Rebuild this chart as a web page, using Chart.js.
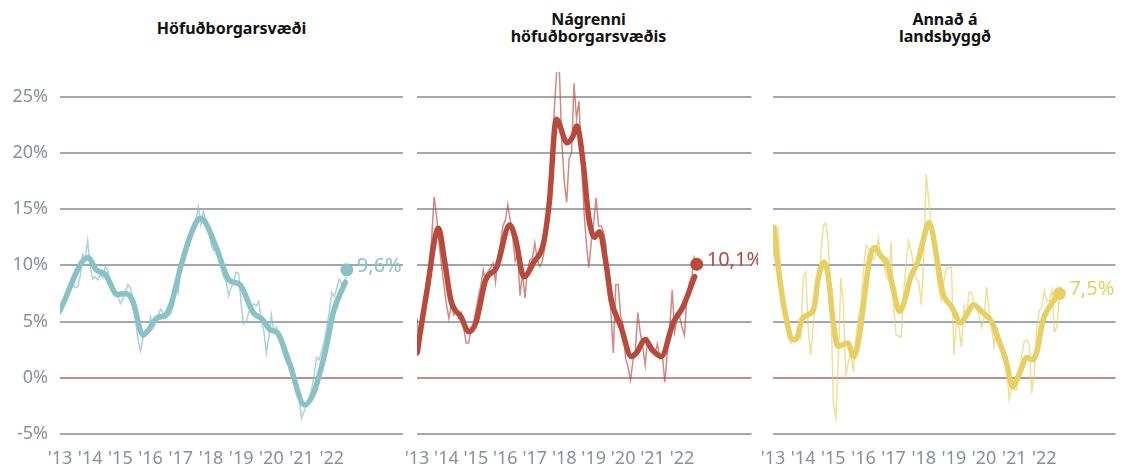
<!DOCTYPE html>
<html lang="is">
<head>
<meta charset="utf-8">
<script src="https://cdn.jsdelivr.net/npm/chart.js@4"></script>
<style>
  body { margin: 0; background: #fff; width: 1122px; height: 468px; position: relative; overflow: hidden; font-family: "Noto Sans", sans-serif; }
  canvas { position: absolute; top: 0; }
  .title { position: absolute; top: 0; height: 56px; display: flex; align-items: center; justify-content: center; text-align: center; font-weight: bold; font-size: 16px; line-height: 17px; color: #111; }
</style>
</head>
<body>
<div class="title" style="left:60px;width:343px">Höfuðborgarsvæði</div>
<div class="title" style="left:417px;width:343px">Nágrenni<br>höfuðborgarsvæðis</div>
<div class="title" style="left:773px;width:344px">Annað á<br>landsbyggð</div>
<canvas id="c1" width="410" height="468" style="left:0px"></canvas>
<canvas id="c2" width="363" height="468" style="left:395px"></canvas>
<canvas id="c3" width="370" height="468" style="left:752px"></canvas>
<script>
// ár á x-ás og gildi á y-ás
const tickYears = [2013, 2014, 2015, 2016, 2017, 2018, 2019, 2020, 2021, 2022];
const yTicks = [-5, 0, 5, 10, 15, 20, 25];
const firstYear = 2013;

// Höfuðborgarsvæði: mánaðarleg 12 mánaða breyting (%) jan 2013 - júl 2022
const capitalMonthly = [
  5.6, 6.2, 6.8, 7.3, 7.8, 8.5, 8.0, 8.1, 9.0, 11.0, 10.6, 12.2,
  10.0, 8.8, 9.0, 8.7, 9.2, 8.9, 9.9, 9.5, 8.5, 8.0, 7.4, 7.2,
  6.6, 7.0, 7.6, 8.3, 8.0, 7.0, 5.2, 3.4, 2.4, 3.6, 4.2, 4.0,
  5.4, 4.5, 5.2, 5.6, 6.1, 5.7, 5.3, 5.5, 5.7, 6.4, 8.5, 7.6,
  9.8, 10.5, 11.9, 11.6, 12.8, 13.8, 14.0, 15.2, 13.6, 14.8, 13.8, 13.2,
  11.9, 11.3, 11.5, 10.8, 10.0, 9.0, 8.6, 7.3, 8.0, 8.5, 9.4, 9.3,
  6.6, 4.8, 5.0, 5.8, 6.2, 6.6, 6.4, 6.8, 5.0, 4.2, 2.2, 3.6,
  5.6, 4.0, 4.5, 3.8, 2.8, 2.0, 1.4, 1.0, 0.6, 0.4, -0.5, -1.8,
  -3.6, -3.0, -2.4, -1.8, -1.0, 0.2, 1.8, 1.6, 2.4, 3.2, 4.5, 5.8,
  7.6, 7.2, 8.0, 8.8, 8.3, 8.6, 9.0
];
const capitalTrendX = [2013.0, 2013.93, 2014.2, 2014.5, 2014.9, 2015.15, 2015.4, 2015.75, 2016.0, 2016.2, 2016.5, 2016.7, 2017.0, 2017.4, 2017.65, 2017.8, 2018.2, 2018.6, 2018.95, 2019.4, 2019.7, 2019.95, 2020.2, 2020.6, 2021.1, 2021.4, 2021.8, 2022.05, 2022.45];
const capitalTrendY = [6.0, 10.7, 9.6, 9.2, 7.4, 7.5, 6.9, 3.8, 4.5, 5.3, 5.6, 6.7, 9.9, 13.2, 14.2, 13.9, 11.4, 8.7, 8.3, 5.8, 5.2, 4.3, 4.0, 1.3, -2.4, -1.35, 2.5, 5.8, 8.5];
const capitalLast = 9.6;

// Nágrenni höfuðborgarsvæðis
const nearbyMonthly = [
  5.3, 2.2, 4.6, 5.5, 7.6, 10.0, 12.5, 16.1, 14.3, 12.0, 10.0, 8.2,
  6.5, 5.3, 6.5, 5.6, 6.0, 5.3, 5.8, 4.5, 3.1, 3.1, 4.2, 4.8,
  6.0, 7.2, 8.2, 9.6, 8.5, 9.5, 9.8, 10.2, 8.5, 10.8, 12.0, 13.5,
  14.0, 15.4, 14.0, 12.5, 10.4, 11.0, 7.3, 9.4, 7.1, 9.5, 10.5, 10.6,
  12.0, 10.5, 9.9, 10.3, 11.5, 14.6, 17.0, 19.5, 24.0, 27.5, 27.5, 21.0,
  17.5, 15.6, 19.5, 20.0, 26.2, 23.0, 24.6, 19.5, 15.0, 12.0, 9.8, 12.0,
  13.8, 16.0, 13.5, 13.5, 13.0, 11.8, 7.3, 6.0, 2.2, 8.3, 8.3, 5.5,
  4.7, 1.7, 1.0, -0.2, 1.5, 2.5, 5.8, 4.0, 2.8, 1.1, 3.5, 3.0,
  2.5, 2.2, 3.0, 1.7, 2.0, -0.4, 2.2, 4.5, 7.8, 4.1, 5.3, 5.5,
  4.5, 3.8, 7.3, 8.5, 9.0, 10.7, 10.1
];
const nearbyTrendX = [2013.0, 2013.33, 2013.73, 2013.93, 2014.15, 2014.5, 2014.75, 2015.0, 2015.33, 2015.7, 2016.15, 2016.35, 2016.63, 2016.97, 2017.3, 2017.5, 2017.73, 2018.1, 2018.3, 2018.43, 2018.63, 2018.83, 2019.03, 2019.2, 2019.4, 2019.6, 2019.93, 2020.28, 2020.45, 2020.75, 2020.98, 2021.3, 2021.7, 2022.03, 2022.43];
const nearbyTrendY = [2.2, 7.6, 13.3, 10.5, 6.9, 5.4, 4.1, 4.9, 8.7, 9.8, 13.6, 12.3, 9.0, 10.3, 12.0, 15.8, 23.0, 20.9, 21.5, 22.4, 19.4, 14.3, 12.5, 13.0, 10.5, 6.9, 4.5, 1.9, 2.2, 3.4, 2.5, 1.9, 4.9, 6.3, 9.0];
const nearbyLast = 10.1;

// Annað á landsbyggð
const ruralMonthly = [
  10.5, 13.4, 13.4, 9.4, 6.5, 4.8, 3.6, 3.1, 3.3, 3.2, 3.5, 3.4,
  8.9, 9.4, 4.5, 2.0, 4.5, 7.5, 8.0, 10.7, 13.5, 13.8, 12.0, 7.5,
  -2.2, -3.6, 1.4, 8.9, 6.5, 0.2, 1.4, 2.3, 0.5, 3.5, 5.5, 6.5,
  9.5, 11.8, 11.5, 11.3, 10.5, 11.0, 12.4, 10.5, 10.2, 9.0, 8.7, 12.1,
  6.3, 3.8, 3.7, 3.6, 7.5, 10.3, 12.2, 11.2, 10.0, 8.8, 8.6, 6.5,
  10.5, 18.1, 15.7, 13.5, 11.8, 9.5, 7.9, 6.9, 8.5, 9.8, 9.7, 9.9,
  2.0, 5.2, 4.5, 2.7, 6.3, 5.3, 7.6, 7.6, 6.5, 6.3, 5.6, 4.5,
  5.3, 8.1, 6.0, 4.5, 2.8, 4.5, 3.8, 2.5, 1.8, 1.0, -1.9, -0.7,
  -1.0, -1.1, 0.8, 2.0, 3.2, 3.4, 2.9, -1.4, 0.5, 4.5, 6.0, 6.3,
  7.8, 6.8, 6.8, 7.8, 4.1, 4.5, 7.6
];
const ruralTrendX = [2013.03, 2013.17, 2013.4, 2013.67, 2013.8, 2013.96, 2014.16, 2014.36, 2014.49, 2014.69, 2014.82, 2015.0, 2015.15, 2015.48, 2015.68, 2015.88, 2016.05, 2016.22, 2016.38, 2016.58, 2016.77, 2016.97, 2017.2, 2017.37, 2017.57, 2017.8, 2017.97, 2018.17, 2018.27, 2018.46, 2018.63, 2018.93, 2019.23, 2019.42, 2019.65, 2019.95, 2020.25, 2020.45, 2020.72, 2020.95, 2021.08, 2021.25, 2021.41, 2021.61, 2021.77, 2021.94, 2022.17, 2022.4];
const ruralTrendY = [13.4, 9.9, 5.8, 3.4, 3.6, 5.2, 5.6, 6.2, 8.7, 10.3, 9.3, 4.9, 2.8, 3.1, 1.9, 4.0, 7.6, 10.8, 11.6, 10.8, 10.3, 8.1, 5.9, 6.9, 9.0, 10.3, 12.1, 13.8, 13.2, 10.2, 7.6, 6.3, 4.9, 5.6, 6.5, 5.8, 5.0, 3.6, 1.6, -0.8, -0.2, 0.9, 1.8, 1.6, 2.5, 5.0, 6.3, 7.2];
const ruralLast = 7.5;

const tickColor = '#8a8fa0';
const gridColor = '#a2a6b0';
const zeroColor = '#c98a8a';

const endLabel = {
  id: 'endLabel',
  afterDatasetsDraw(chart, args, opts) {
    const pt = chart.getDatasetMeta(2).data[0];
    const ctx = chart.ctx;
    ctx.save();
    ctx.font = '20px "Noto Sans"';
    ctx.fillStyle = opts.color;
    ctx.textBaseline = 'middle';
    ctx.textAlign = 'left';
    ctx.fillText(opts.text, pt.x + 10, pt.y - 4);
    ctx.restore();
  }
};

function monthlyPoints(values) {
  return values.map((v, i) => ({ x: firstYear + i / 12, y: v }));
}

function makePanel(id, monthly, trendX, trendY, last, color, thin, axisWidth, padRight, showY) {
  const lastX = firstYear + (monthly.length - 1) / 12;
  new Chart(document.getElementById(id), {
    type: 'line',
    data: {
      datasets: [
        { data: monthlyPoints(monthly), borderColor: thin, borderWidth: 1.5, pointRadius: 0, tension: 0, order: 3 },
        { data: trendX.map((x, i) => ({ x: x, y: trendY[i] })), borderColor: color, borderWidth: 5.5, pointRadius: 0,
          cubicInterpolationMode: 'monotone', borderCapStyle: 'round', borderJoinStyle: 'round', order: 2 },
        { data: [{ x: lastX, y: last }], showLine: false, pointRadius: 6.5, pointBackgroundColor: color,
          pointBorderWidth: 0, clip: false, order: 1 }
      ]
    },
    options: {
      responsive: false,
      animation: false,
      layout: { padding: { top: 72, right: padRight, bottom: 0, left: 0 } },
      plugins: {
        legend: { display: false },
        tooltip: { enabled: false },
        endLabel: { color: color, text: last.toFixed(1).replace('.', ',') + '%' }
      },
      scales: {
        x: {
          type: 'linear', min: 2013, max: 2024.36,
          grid: { display: false }, border: { display: false },
          afterBuildTicks: s => { s.ticks = tickYears.map(v => ({ value: v })); },
          afterFit: s => { s.height = 34; },
          ticks: { padding: 6, color: tickColor, autoSkip: false, maxRotation: 0,
                   font: { family: 'Noto Sans', size: 18 },
                   callback: v => "'" + String(v).slice(2) }
        },
        y: {
          min: -5, max: 27.2,
          border: { display: false },
          afterBuildTicks: s => { s.ticks = yTicks.map(v => ({ value: v })); },
          afterFit: s => { s.width = axisWidth; },
          grid: { drawTicks: false, lineWidth: 2, color: c => c.tick && c.tick.value === 0 ? zeroColor : gridColor },
          ticks: { display: showY, padding: 12, color: tickColor, font: { family: 'Noto Sans', size: 18 },
                   callback: v => v + '%' }
        }
      }
    },
    plugins: [endLabel]
  });
}

makePanel('c1', capitalMonthly, capitalTrendX, capitalTrendY, capitalLast, '#88c1c6', 'rgba(136,193,198,0.7)', 60, 7, true);
makePanel('c2', nearbyMonthly, nearbyTrendX, nearbyTrendY, nearbyLast, '#b84a3d', 'rgba(184,74,61,0.65)', 22, 0, false);
makePanel('c3', ruralMonthly, ruralTrendX, ruralTrendY, ruralLast, '#e6cf63', 'rgba(230,207,99,0.65)', 21, 5, false);
</script>
</body>
</html>
